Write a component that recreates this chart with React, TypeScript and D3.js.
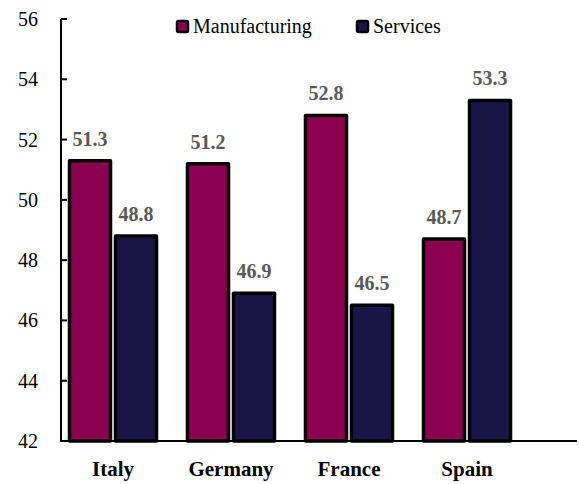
import React from "react";
import * as d3 from "d3";

const countries = ["Italy", "Germany", "France", "Spain"];
const series = ["Manufacturing", "Services"];
const manufacturing = [51.3, 51.2, 52.8, 48.7];
const services = [48.8, 46.9, 46.5, 53.3];
const yTicks = [42, 44, 46, 48, 50, 52, 54, 56];
const colors = ["#8B004F", "#1B1547"];

const FONT = "Times New Roman";

const width = 579;
const height = 484;
const left = 61;
const right = 577;
const top = 19;
const bottom = 441;

// scales
const y = d3.scaleLinear().domain([42, 56]).range([bottom, top]);
const x0 = d3.scaleBand().domain(countries).range([54, 526]);
const x1 = d3.scaleBand().domain(series).range([-46, 46]);

export default function App() {
  const values = [manufacturing, services];
  const legendX = [177, 357];

  return (
    <svg
      width={width}
      height={height}
      style={{ position: "absolute", left: 0, top: 0, background: "#fff", fontFamily: FONT }}
    >
      {/* bars and value labels */}
      {series.map((s, si) =>
        countries.map((c, i) => {
          const v = values[si][i];
          const cx = x0(c)! + x0.bandwidth() / 2 + x1(s)! + 23;
          return (
            <g key={s + c}>
              <rect
                x={cx - 20.5}
                width={41}
                y={y(v)}
                height={bottom - y(v)}
                fill={colors[si]}
                stroke="#000"
                strokeWidth={3.5}
                strokeLinejoin="round"
              />
              <text
                x={cx}
                y={y(v) - 15}
                textAnchor="middle"
                fontWeight="bold"
                fontSize={20}
                fill="#595959"
                fontFamily={FONT}
              >
                {v.toFixed(1)}
              </text>
            </g>
          );
        })
      )}

      {/* y axis */}
      <line x1={left} x2={left} y1={top} y2={bottom} stroke="#000" strokeWidth={2} />
      {yTicks.map(t => (
        <g key={t}>
          <line x1={left} x2={left + 6} y1={y(t)} y2={y(t)} stroke="#000" strokeWidth={2} />
          <text
            x={left - 23}
            y={y(t) + 7}
            textAnchor="end"
            fontSize={20}
            fill="#000"
            fontFamily={FONT}
          >
            {t}
          </text>
        </g>
      ))}

      {/* x axis */}
      <line x1={left - 1} x2={right} y1={bottom} y2={bottom} stroke="#000" strokeWidth={2} />
      {countries.map(c => (
        <text
          key={c}
          x={x0(c)! + x0.bandwidth() / 2}
          y={476}
          textAnchor="middle"
          fontWeight="bold"
          fontSize={21}
          fill="#000"
          fontFamily={FONT}
        >
          {c}
        </text>
      ))}

      {/* legend */}
      {series.map((s, i) => (
        <g key={s}>
          <rect
            x={legendX[i]}
            y={21}
            width={11}
            height={11}
            rx={1.5}
            fill={colors[i]}
            stroke="#000"
            strokeWidth={2.5}
            strokeLinejoin="round"
          />
          <text x={legendX[i] + 16} y={33} fontSize={20} fill="#000" fontFamily={FONT}>
            {s}
          </text>
        </g>
      ))}
    </svg>
  );
}
